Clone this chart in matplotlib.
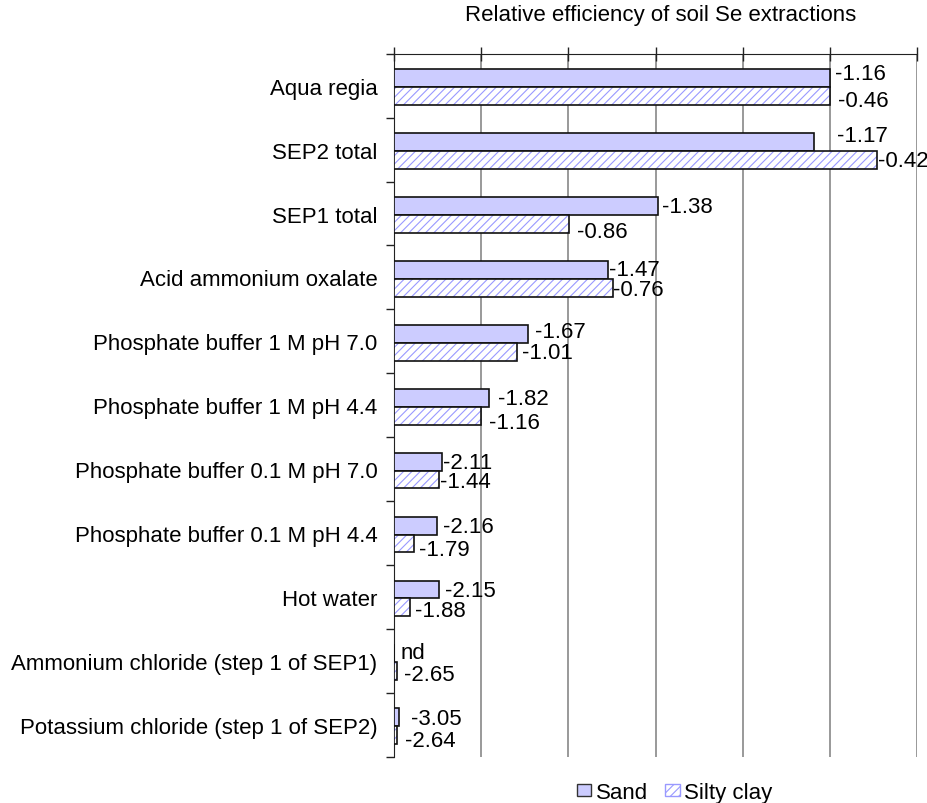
import numpy as np
import matplotlib
matplotlib.use("Agg")
from matplotlib import pyplot as plt
from matplotlib.patches import Patch

plt.rcParams['font.family'] = ['Liberation Sans', 'DejaVu Sans']
plt.rcParams['hatch.linewidth'] = 0.8

# Extraction methods, top to bottom
methods = ['Aqua regia', 'SEP2 total', 'SEP1 total', 'Acid ammonium oxalate',
           'Phosphate buffer 1 M pH 7.0', 'Phosphate buffer 1 M pH 4.4',
           'Phosphate buffer 0.1 M pH 7.0', 'Phosphate buffer 0.1 M pH 4.4',
           'Hot water', 'Ammonium chloride (step 1 of SEP1)',
           'Potassium chloride (step 1 of SEP2)']

# Relative efficiency (aqua regia = 1)
sand = [1.0, 0.962, 0.605, 0.491, 0.308, 0.217, 0.111, 0.098, 0.102, 0.0, 0.012]
silty_clay = [1.0, 1.107, 0.401, 0.501, 0.281, 0.200, 0.104, 0.045, 0.036, 0.006, 0.006]

# Printed value labels (log values)
sand_labels = ['-1.16', '-1.17', '-1.38', '-1.47', '-1.67', '-1.82',
               '-2.11', '-2.16', '-2.15', 'nd', '-3.05']
silty_labels = ['-0.46', '-0.42', '-0.86', '-0.76', '-1.01', '-1.16',
                '-1.44', '-1.79', '-1.88', '-2.65', '-2.64']

# label nudges in pixels (dx, dy downwards), as placed in the original
sand_nudge = [(5, -5), (23, -7), (4, 0), (1, -1), (7, -3), (9, 0),
              (1, 0), (6, 0), (6, 0), (7, -2), (12, 0)]
silty_nudge = [(8, 4), (1, 0), (8, 7), (0, 1), (5, 0), (8, 6),
               (1, 1), (5, 5), (5, 2), (7, 2), (8, 4)]

sand_color = '#ccccff'
hatch_color = '#9999ff'
fs = 16

fig = plt.figure(figsize=(9.28, 8.04), dpi=100)
ax = fig.add_axes([0.4246, 0.0572, 0.9886 - 0.4246, 0.932 - 0.0572])

y = np.arange(len(methods))
h = 0.28

# Sand bars
ax.barh(y - h / 2 + 0.02, sand, height=h, color=sand_color, edgecolor='#111111',
        linewidth=1.2, zorder=3)
# Silty clay bars: hatch layer then outline
ax.barh(y + h / 2 + 0.02, silty_clay, height=h, color='white', edgecolor=hatch_color,
        hatch='////', linewidth=0, zorder=3)
ax.barh(y + h / 2 + 0.02, silty_clay, height=h, color='none', edgecolor='#111111',
        linewidth=1.2, zorder=4)

for yi, v, lab, (dx, dy) in zip(y, sand, sand_labels, sand_nudge):
    ax.annotate(lab, (v, yi - h / 2 + 0.02), xytext=(dx, -dy - 1),
                textcoords='offset pixels', va='center', ha='left',
                fontsize=fs, zorder=5, annotation_clip=False)
for yi, v, lab, (dx, dy) in zip(y, silty_clay, silty_labels, silty_nudge):
    ax.annotate(lab, (v, yi + h / 2 + 0.02), xytext=(dx, -dy - 1),
                textcoords='offset pixels', va='center', ha='left',
                fontsize=fs, zorder=5, annotation_clip=False)

ax.set_xlim(0, 1.2)
ax.set_ylim(len(methods) - 0.5, -0.5)

# x axis on top, no labels
ax.xaxis.tick_top()
ax.set_xticks(np.arange(0, 1.21, 0.2))
ax.tick_params(axis='x', which='major', direction='inout', length=10,
               width=1, labeltop=False, labelbottom=False, color='#222222')
ax.grid(axis='x', color='#888888', linewidth=1.2, zorder=0)

# y axis: labels at centres, ticks at category boundaries
ax.set_yticks(y)
ax.set_yticklabels(methods, fontsize=fs)
ax.set_yticks(np.arange(-0.5, len(methods)), minor=True)
ax.tick_params(axis='y', which='major', length=0, pad=12)
ax.tick_params(axis='y', which='minor', length=6, width=1, color='#222222')

for s in ['right', 'bottom']:
    ax.spines[s].set_visible(False)
ax.spines['top'].set_color('#222222')
ax.spines['left'].set_color('#222222')

fig.text(0.712, 0.981, 'Relative efficiency of soil Se extractions',
         ha='center', va='center', fontsize=fs)

handles = [Patch(facecolor=sand_color, edgecolor='#333333', label='Sand'),
           Patch(facecolor='white', edgecolor=hatch_color, hatch='////',
                 label='Silty clay')]
fig.legend(handles=handles, loc='center', bbox_to_anchor=(0.727, 0.013),
           ncol=2, frameon=False, fontsize=fs, handlelength=0.65,
           handleheight=0.5, handletextpad=0.2, columnspacing=0.8,
           borderpad=0)

fig.savefig('out.png', dpi=100)
